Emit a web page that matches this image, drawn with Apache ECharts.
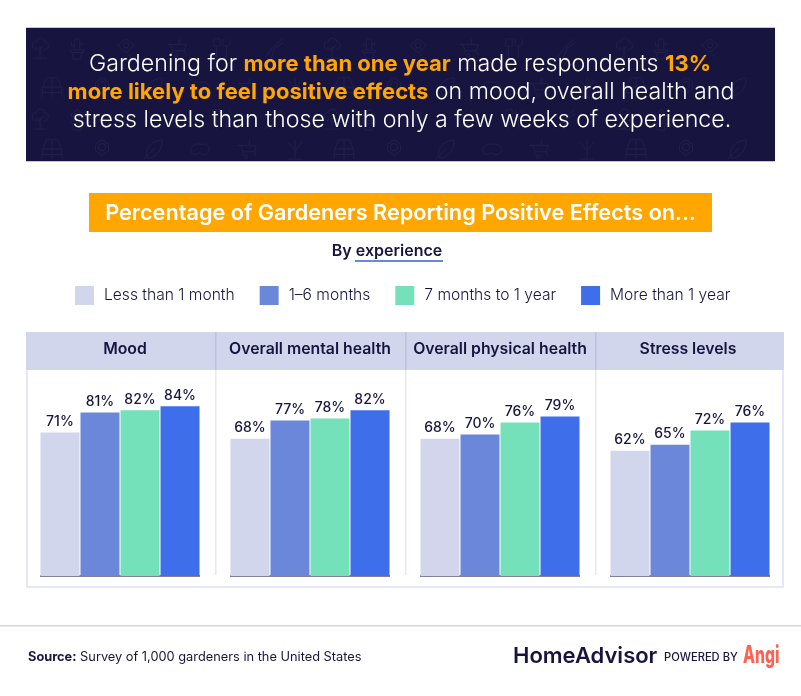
<!DOCTYPE html>
<html>
<head>
<meta charset="UTF-8">
<title>Percentage of Gardeners Reporting Positive Effects</title>
<script src="https://cdn.jsdelivr.net/npm/echarts@6/dist/echarts.min.js"></script>
<style>
html, body { margin: 0; padding: 0; background: #fff; overflow: hidden; }
#main { width: 801px; height: 696px; }
</style>
</head>
<body>
<div id="main"></div>
<script>
var categories = ['Mood', 'Overall mental health', 'Overall physical health', 'Stress levels'];
var seriesNames = ['Less than 1 month', '1–6 months', '7 months to 1 year', 'More than 1 year'];
var lessThanMonth = [71, 68, 68, 62];
var oneToSixMonths = [81, 77, 70, 65];
var sevenToTwelveMonths = [82, 78, 76, 72];
var moreThanYear = [84, 82, 79, 76];
var seriesValues = [lessThanMonth, oneToSixMonths, sevenToTwelveMonths, moreThanYear];
var colors = ['#d2d6ec', '#6b87d9', '#75e1bb', '#3f6eeb'];

var NAVY = '#17143f', ORANGE = '#ffa600', FONT = 'Inter';
var panelLeft = [40, 230, 420, 610];
var headerCenter = [125, 310, 500, 688];

var chart = echarts.init(document.getElementById('main'), null, { renderer: 'canvas' });

function rect(x, y, w, h, fill, z) {
  return { type: 'rect', z: z || 0, silent: true, shape: { x: x, y: y, width: w, height: h }, style: { fill: fill } };
}
function text(str, x, y, size, weight, color, rich, align) {
  return {
    type: 'text', z: 5, silent: true, x: x, y: y,
    style: { text: str, rich: rich, fill: color, font: weight + ' ' + size + 'px ' + FONT,
      align: align || 'center', verticalAlign: 'middle' }
  };
}

// faint garden doodles behind the banner text
var ICONS = {
  tree: 'M12 23V10M12 15L7 11M12 13L16 9M4 23H20M8 14C2 13 2 5 8 5C9 0 16 0 17 5C23 6 22 14 16 14',
  pot: 'M5 14H19V17H5ZM7 17L8 24H16L17 17M9 14V5C9 1 15 1 15 5V14M9 9H6V6M15 8H18V5',
  sign: 'M3 9L12 2L21 9L12 17ZM9 9A3 3 0 1 0 15 9A3 3 0 1 0 9 9M14 18L18 22',
  barrow: 'M2 8H5L8 15H20L22 8ZM8 15L6 19M20 15L22 20M9 20A2 2 0 1 0 13 20A2 2 0 1 0 9 20M14 8L15 2',
  tools: 'M3 2H10V10H3ZM6 10V23M14 2C12 6 13 10 17 10C21 10 22 6 20 2M17 10V23',
  pruner: 'M3 23L12 11M10 23L14 12M12 11L22 2M14 12L23 6',
  fence: 'M6 2H18L22 12H2ZM2 12L1 23M22 12L23 23M12 2V23M1 18H23',
  flower: 'M8 10A4 4 0 1 0 16 10A4 4 0 1 0 8 10M5 7L12 2L19 7L19 14L12 19L5 14Z',
  leaf: 'M6 22C2 12 10 3 22 2C22 14 14 22 6 22M2 23L14 11',
  glove: 'M2 14C2 8 8 5 12 7C18 5 23 9 22 14C21 19 14 19 11 16C8 19 2 18 2 14',
  plant: 'M12 23V12M12 14L4 4M12 14L20 4M12 12V2M4 23H20'
};
Object.keys(ICONS).forEach(function (name) {
  echarts.graphic.registerShape('icon_' + name, echarts.graphic.extendPath(ICONS[name], {}));
});
var iconRowA = ['tree', 'pot', 'sign', 'barrow', 'tools', 'pruner'];
var iconRowB = ['fence', 'flower', 'leaf', 'glove', 'barrow', 'plant'];
var iconXA = [40, 77, 126, 177, 222, 273];
var iconXB = [52, 102, 153, 200, 247, 295];
function icon(name, cx, cy) {
  return {
    type: 'icon_' + name, z: 2, silent: true, x: cx - 11, y: cy - 11, scaleX: 0.92, scaleY: 0.92,
    style: { fill: 'none', stroke: '#24214f', lineWidth: 1 }
  };
}
var iconElements = [];
[[iconRowA, iconXA, 48], [iconRowB, iconXB, 87], [iconRowA, iconXA, 119], [iconRowB, iconXB, 149]].forEach(function (row) {
  for (var rep = 0; rep < 3; rep++) {
    row[0].forEach(function (name, i) {
      var cx = row[1][i] + rep * 292;
      if (cx < 760) iconElements.push(icon(name, cx, row[2]));
    });
  }
});

var bannerRich = { b: { fill: ORANGE, font: '700 22px ' + FONT } };
var graphics = [
  rect(26, 27, 749, 135, '#c4c6dc'),
  rect(26, 28, 749, 133, NAVY, 1),
  text('Gardening for {b|more than one year} made respondents {b|13%}', 400, 64, 23.2, 300, '#fff', bannerRich),
  text('{b|more likely to feel positive effects} on mood, overall health and', 401, 92, 23.2, 300, '#fff', bannerRich),
  text('stress levels than those with only a few weeks of experience.', 402, 120, 23.2, 300, '#fff'),
  rect(89, 193, 623, 39, ORANGE),
  text('Percentage of Gardeners Reporting Positive Effects on...', 400.5, 213, 21.7, 600, '#fff'),
  text('By experience', 387, 251, 16, 600, NAVY),
  rect(355, 260, 88, 2, '#6b87d9'),
  // chart panel
  rect(26, 332, 758, 256, '#e6e8f5'),
  rect(28, 370, 754, 216, '#fff'),
  rect(26, 332, 758, 38, '#d2d6ec'),
  rect(215, 370, 1.5, 205, '#e6e8f5'),
  rect(405, 370, 1.5, 205, '#e6e8f5'),
  rect(595, 370, 1.5, 205, '#e6e8f5'),
  rect(215, 332, 1.5, 38, '#bcc2e0'),
  rect(405, 332, 1.5, 38, '#bcc2e0'),
  rect(595, 332, 1.5, 38, '#bcc2e0'),
  // footer
  rect(0, 625, 801, 1.5, '#d2d6ec'),
  text('{b|Source:} Survey of 1,000 gardeners in the United States', 28, 657, 12.8, 400, NAVY,
    { b: { fill: NAVY, font: '700 12.8px ' + FONT } }, 'left'),
  text('HomeAdvisor', 513, 656, 22, 600, NAVY, null, 'left'),
  text('POWERED BY', 664, 658, 11.2, 500, NAVY, null, 'left'),
  Object.assign(text('Angi', 743, 656, 24, 800, '#ff6153', null, 'left'), { scaleX: 0.65 })
].concat(iconElements);

var grids = [], xAxes = [], yAxes = [], series = [], titles = [];
categories.forEach(function (cat, g) {
  grids.push({ left: panelLeft[g], top: 374, width: 160, height: 202 });
  xAxes.push({
    type: 'category', gridIndex: g, data: [cat],
    axisLine: { lineStyle: { color: '#7f7f9f', width: 2, cap: 'butt' } },
    axisTick: { show: false }, axisLabel: { show: false }
  });
  yAxes.push({ type: 'value', gridIndex: g, min: 0, max: 100, show: false });
  titles.push({
    text: cat, left: headerCenter[g], top: 349, padding: 0, textAlign: 'center', textVerticalAlign: 'middle',
    textStyle: { color: NAVY, fontFamily: FONT, fontSize: 15.8, fontWeight: 600 }
  });
  seriesNames.forEach(function (name, s) {
    series.push({
      name: name, type: 'bar', xAxisIndex: g, yAxisIndex: g,
      data: [seriesValues[s][g]],
      barWidth: 39, barGap: '2.6%',
      itemStyle: { color: colors[s] },
      label: {
        show: true, position: 'top', distance: 4, formatter: '{c}%',
        color: NAVY, fontFamily: FONT, fontSize: 14, fontWeight: 500
      },
      animation: false
    });
  });
});

var option = {
  animation: false,
  title: titles,
  legend: {
    data: seriesNames, left: 70, top: 281, itemWidth: 19, itemHeight: 19, itemGap: 25, icon: 'rect',
    selectedMode: false,
    textStyle: { color: NAVY, fontFamily: FONT, fontSize: 15.6, fontWeight: 300, padding: [0, 0, 0, 5] }
  },
  grid: grids, xAxis: xAxes, yAxis: yAxes, series: series,
  graphic: { elements: graphics }
};
chart.setOption(option);
</script>
</body>
</html>
